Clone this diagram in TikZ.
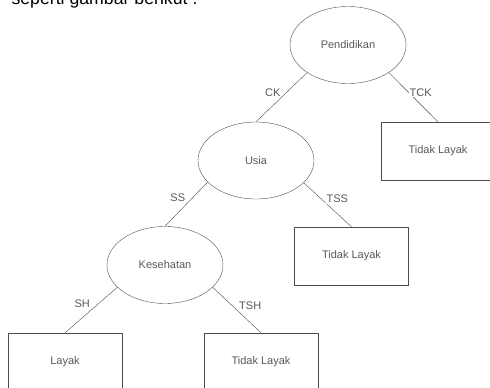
\documentclass[tikz,border=0pt]{standalone}
\usepackage{fontspec}
\setmainfont{Liberation Sans}
\usetikzlibrary{shapes.geometric}
\usetikzlibrary{positioning}

\begin{document}
\begin{tikzpicture}[x=1pt, y=-1pt, every text node part/.style={align=center},
  decision/.style={draw=black!70, ellipse, minimum width=116pt, minimum height=77pt, inner sep=0pt, font=\fontsize{11}{13}\selectfont, text=black!65},
  leaf/.style={draw=black!70, rectangle, minimum width=114pt, minimum height=58pt, inner sep=0pt, font=\fontsize{11}{13}\selectfont, text=black!65},
  branch/.style={draw=black!70},
  lbl/.style={fill=white, inner sep=1pt, font=\fontsize{11}{13}\selectfont, text=black!65}]
\useasboundingbox (0,0) rectangle (490,388);
\clip (0,0) rectangle (490,388);

\node (intro) [anchor=base west, font=\fontsize{17.7}{20}\selectfont] at (8,5) {seperti gambar berikut :};

\node (pendidikan) [decision] at (348,45) {Pendidikan};
\node (usia) [decision] at (256,160.5) {Usia};
\node (kesehatan) [decision] at (165,265) {Kesehatan};

\node (tidak layak 1) [leaf] at (438,151) {Tidak Layak};
\node (tidak layak 2) [leaf] at (351.5,256) {Tidak Layak};
\node (layak) [leaf] at (65,362) {Layak};
\node (tidak layak 3) [leaf] at (261,362) {Tidak Layak};

\draw [branch] (pendidikan.-146) -- node [lbl, pos=.4, anchor=east, xshift=-5pt] {CK} (usia.north);
\draw [branch] (pendidikan.-34) -- node [lbl, pos=.4, anchor=west] {TCK} (tidak layak 1.north);

\draw [branch] (usia.-156) -- node [lbl, pos=.36, anchor=east, xshift=-6pt] {SS} (kesehatan.north);
\draw [branch] (usia.-25) -- node [lbl, pos=.37, anchor=west, xshift=4pt] {TSS} (tidak layak 2.north);

\draw [branch] (kesehatan.-155) -- node [lbl, pos=.37, anchor=east, xshift=-7pt] {SH} (layak.north);
\draw [branch] (kesehatan.-25) -- node [lbl, pos=.4, anchor=west, xshift=6pt] {TSH} (tidak layak 3.north);

\end{tikzpicture}
\end{document}
